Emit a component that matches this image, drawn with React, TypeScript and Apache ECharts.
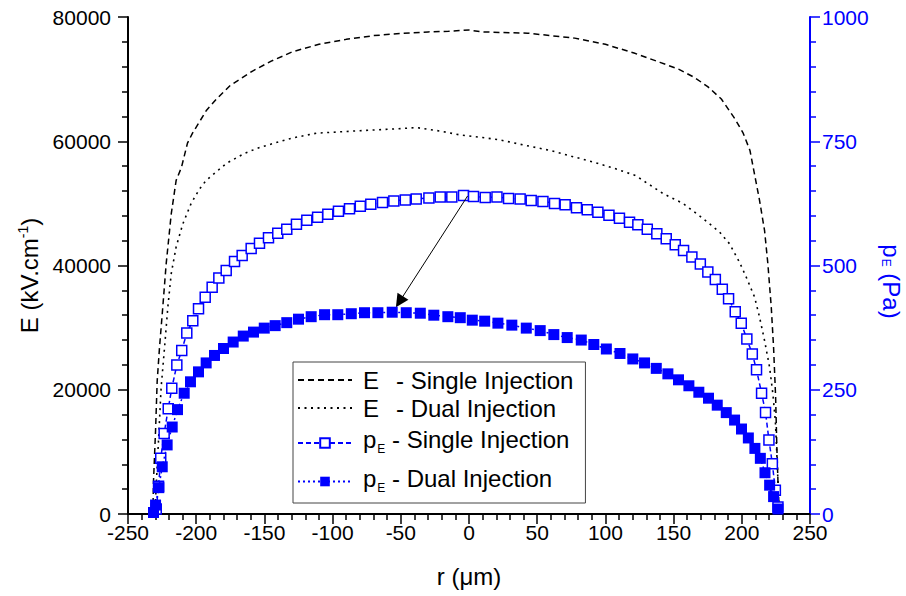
import { useEffect, useRef } from 'react';
import * as echarts from 'echarts';

// ---- data ----
// Electric field E (kV/cm), left axis
const rESingle = [-231.8, -231.3, -229.8, -228.6, -226.9, -224.5, -222, -218.3, -214.7, -210.8, -206.4, -202.7, -192.4, -185.1, -175, -158.7, -145, -129.4, -110, -90, -70, -53, -30, -15, 0, 10, 25, 43, 60, 77.5, 100, 121, 140, 153.6, 165, 175, 185, 195, 201, 206, 209.5, 213, 216.7, 219.1, 221.6, 223.3, 224.8, 225.7, 226.5, 227.5];
const eSingle = [0, 5300, 13400, 21400, 26800, 33300, 40300, 48300, 53700, 55800, 59700, 61300, 65000, 66800, 69000, 71300, 72900, 74400, 75600, 76400, 77000, 77300, 77600, 77700, 77900, 77600, 77500, 77400, 77000, 76600, 75600, 74200, 72700, 71600, 70300, 68800, 66800, 63600, 61300, 58500, 54500, 50500, 45600, 40300, 33300, 26800, 18800, 10700, 5300, 0];

const rEDual = [-230.3, -228.9, -227.4, -225.7, -223.2, -220.8, -218.3, -214.7, -209.8, -203.7, -197.6, -192.7, -177.8, -165, -153.6, -130, -111.8, -80, -53, -38.5, -20, -6.2, 10, 23, 40, 59.8, 75, 92, 107, 121.9, 127.5, 142.1, 156.8, 169, 183.7, 191, 198.4, 203.3, 209.4, 213, 216.7, 220.4, 222.8, 224.6, 225.7, 226.5, 227.5];
const eDual = [0, 6400, 12850, 20400, 26800, 33300, 38700, 43000, 46700, 50000, 52300, 53700, 56450, 58000, 59000, 60500, 61300, 61700, 62000, 62200, 61600, 61000, 60600, 60200, 59400, 58500, 57600, 56600, 55600, 54500, 53700, 51600, 50000, 48000, 45400, 43500, 40500, 38100, 34900, 31700, 27900, 23600, 19300, 15000, 9600, 5300, 0];

// Electrostatic pressure p_E (Pa), right axis
const rPSingle = [-229.3, -227.6, -226, -223.5, -220.5, -217.9, -214.2, -210.6, -206.9, -202.5, -198.3, -193.4, -188.3, -183.4, -178, -171.9, -166.3, -159.7, -153.6, -147, -140.2, -133.6, -126.5, -118.9, -111, -103.5, -95.7, -87.6, -79.7, -72, -63.4, -55.1, -46.7, -38.7, -29.4, -21.1, -12.6, -4, 3.3, 11.9, 20.5, 29, 37.5, 45.6, 54.2, 62.7, 70.5, 78.8, 86.7, 94.5, 102.6, 110.3, 117.7, 123.8, 130.7, 137.7, 144.6, 151.2, 157.3, 163.4, 169.6, 175.1, 180.6, 185.7, 190.3, 195.2, 199.6, 203.7, 207.7, 210.8, 214.5, 217.4, 219.9, 222.4, 224.6, 226.5];
const pSingle = [10, 56, 112, 162, 212, 253, 300, 329, 364, 389, 413, 436, 456, 475, 490, 508, 520, 534, 545, 556, 565, 573, 583, 591, 597, 603, 609, 614, 619, 623, 627, 630, 632, 634, 636, 638, 638, 641, 639, 637, 638, 635, 634, 631, 629, 625, 622, 616, 612, 607, 601, 595, 587, 582, 573, 564, 554, 542, 530, 517, 503, 487, 472, 452, 433, 407, 384, 352, 322, 290, 243, 204, 149, 101, 48, 14];

const rPDual = [-231.3, -229.8, -227.4, -224.9, -221.3, -217.6, -213.7, -208.8, -204.2, -198.3, -192.7, -186.6, -180, -172.9, -165.5, -158, -150.1, -142.1, -133.6, -125, -115.7, -105.9, -96.2, -86.3, -76.6, -66.8, -56.3, -46, -35.7, -25.8, -15.5, -6.4, 2.4, 11.5, 21.2, 31.4, 42, 52.2, 62.2, 72, 82.3, 91.5, 100.7, 110.7, 120.1, 128.7, 137.3, 145.8, 153.6, 161.2, 168.5, 175.6, 182, 188.6, 194.7, 199.8, 204.8, 209.6, 213.6, 217, 220.4, 223.3, 226.5];
const pDual = [3, 18, 53, 95, 139, 175, 210, 243, 266, 286, 304, 319, 333, 346, 358, 366, 374, 379, 385, 392, 397, 401, 401, 403, 405, 405, 406, 405, 404, 400, 397, 395, 390, 388, 384, 380, 374, 369, 361, 355, 350, 341, 332, 323, 312, 304, 293, 282, 270, 258, 245, 233, 219, 204, 189, 171, 153, 132, 112, 83, 58, 35, 10];

// arrow from the single-injection peak to the dual-injection curve (right-axis units)
const arrowFrom = [-1, 640];
const arrowTo = [-51, 427];

const seriesNames = ['E - Single Injection', 'E - Dual Injection', 'pE - Single Injection', 'pE - Dual Injection'];
const legendLabels = [
  '{m|E}{n|- Single Injection}',
  '{m|E}{n|- Dual Injection}',
  '{p|p}{sub|E}{q| - Single Injection}',
  '{p|p}{sub|E}{q| - Dual Injection}',
];

const zip = (xs: number[], ys: number[]) => xs.map((x, i) => [x, ys[i]]);

const FONT = '"Liberation Sans", Arial, Helvetica, sans-serif';
const BLUE = '#0000ff';

export default function App() {
  const ref = useRef<HTMLDivElement>(null);

  useEffect(() => {
    if (!ref.current) return;
    const chart = echarts.init(ref.current, undefined, { renderer: 'svg' });

    const labelMap: Record<string, string> = {};
    seriesNames.forEach((n, i) => (labelMap[n] = legendLabels[i]));
    const plain = (v: number) => String(v);

    const option: any = {
      animation: false,
      backgroundColor: '#ffffff',
      textStyle: { fontFamily: FONT },
      grid: { left: 128, right: 96, top: 17, bottom: 82, containLabel: false, outerBoundsMode: 'none' },
      legend: {
        orient: 'vertical',
        left: 293,
        top: 362,
        padding: [6, 12, 6, 4],
        itemGap: 4,
        itemWidth: 54,
        itemHeight: 12,
        borderColor: '#444',
        borderWidth: 1,
        borderRadius: 0,
        backgroundColor: '#fff',
        data: seriesNames.map((name, i) => (i < 2 ? { name, itemStyle: { opacity: 0 } } : { name })),
        formatter: (name: string) => labelMap[name],
        textStyle: {
          fontFamily: FONT,
          fontSize: 24,
          color: '#000',
          rich: {
            m: { fontSize: 24, lineHeight: 24, width: 33, padding: [0, 0, 0, 6], fontFamily: FONT },
            n: { fontSize: 24, lineHeight: 24, fontFamily: FONT },
            p: { fontSize: 24, lineHeight: 24, padding: [0, 0, 7, 6], fontFamily: FONT },
            q: { fontSize: 24, lineHeight: 24, padding: [0, 0, 7, 0], fontFamily: FONT },
            sub: { fontSize: 12, lineHeight: 12, fontFamily: FONT, verticalAlign: 'bottom', padding: [19, 0, 0, 1] },
          },
        },
      },
      xAxis: {
        type: 'value',
        min: -250,
        max: 250,
        interval: 50,
        name: 'r (μm)',
        nameLocation: 'middle',
        nameGap: 50,
        nameTextStyle: { fontSize: 24, color: '#000', fontFamily: FONT },
        axisLine: { onZero: false, lineStyle: { color: '#000', width: 2 } },
        axisTick: { show: true, length: 10, lineStyle: { color: '#000', width: 1.5 } },
        minorTick: { show: true, splitNumber: 5, length: 6, lineStyle: { color: '#000', width: 1.5 } },
        axisLabel: { fontSize: 21, color: '#000', margin: 8, fontFamily: FONT, formatter: plain },
        splitLine: { show: false },
      },
      yAxis: [
        {
          type: 'value',
          position: 'left',
          min: 0,
          max: 80000,
          interval: 20000,
          name: '{n|E (kV.cm}{sup|-1}{n|)}',
          nameLocation: 'middle',
          nameGap: 86,
          nameTextStyle: {
            color: '#000',
            fontFamily: FONT,
            padding: [0, 20, 0, 0],
            rich: {
              n: { fontSize: 24, fontFamily: FONT },
              sup: { fontSize: 14, fontFamily: FONT, verticalAlign: 'top', padding: [0, 0, 12, 0] },
            },
          },
          axisLine: { show: true, onZero: false, lineStyle: { color: '#000', width: 2 } },
          axisTick: { show: true, length: 10, lineStyle: { color: '#000', width: 1.5 } },
          minorTick: { show: true, splitNumber: 5, length: 6, lineStyle: { color: '#000', width: 1.5 } },
          axisLabel: { fontSize: 21, color: '#000', margin: 17, fontFamily: FONT, formatter: plain },
          splitLine: { show: false },
        },
        {
          type: 'value',
          position: 'right',
          min: 0,
          max: 1000,
          interval: 250,
          name: '{n|p}{sub|E}{n| (Pa)}',
          nameLocation: 'middle',
          nameRotate: -90,
          nameGap: 66,
          nameTextStyle: {
            color: BLUE,
            fontFamily: FONT,
            padding: [0, 0, 0, 32],
            rich: {
              n: { fontSize: 24, lineHeight: 24, fontFamily: FONT, color: BLUE },
              sub: { fontSize: 12, lineHeight: 12, fontFamily: FONT, color: BLUE, verticalAlign: 'bottom', padding: [14, 0, 0, 1] },
            },
          },
          axisLine: { show: true, onZero: false, lineStyle: { color: BLUE, width: 2 } },
          axisTick: { show: true, length: 10, lineStyle: { color: BLUE, width: 1.5 } },
          minorTick: { show: true, splitNumber: 5, length: 6, lineStyle: { color: BLUE, width: 1.5 } },
          axisLabel: { fontSize: 21, color: BLUE, margin: 12, fontFamily: FONT, formatter: plain },
          splitLine: { show: false },
        },
      ],
      series: [
        {
          name: seriesNames[0],
          type: 'line',
          yAxisIndex: 0,
          data: zip(rESingle, eSingle),
          symbol: 'none',
          color: '#000',
          lineStyle: { color: '#000', width: 1.5, type: [6, 4] },
          z: 3,
        },
        {
          name: seriesNames[1],
          type: 'line',
          yAxisIndex: 0,
          data: zip(rEDual, eDual),
          symbol: 'none',
          color: '#000',
          lineStyle: { color: '#000', width: 1.6, type: [2, 4.5] },
          z: 3,
        },
        {
          name: seriesNames[2],
          type: 'line',
          yAxisIndex: 1,
          data: zip(rPSingle, pSingle),
          symbol: 'rect',
          symbolSize: 10,
          showAllSymbol: true,
          color: BLUE,
          itemStyle: { color: '#ffffff', borderColor: BLUE, borderWidth: 1.5 },
          lineStyle: { color: BLUE, width: 1.5, type: [5, 3] },
          z: 4,
          markLine: {
            silent: true,
            animation: false,
            symbol: ['none', 'triangle'],
            symbolSize: 13,
            label: { show: false },
            lineStyle: { color: '#000', width: 1, type: 'solid' },
            itemStyle: { color: '#000' },
            emphasis: { disabled: true },
            data: [[{ coord: arrowFrom }, { coord: arrowTo }]],
          },
        },
        {
          name: seriesNames[3],
          type: 'line',
          yAxisIndex: 1,
          data: zip(rPDual, pDual),
          symbol: 'rect',
          symbolSize: 11,
          showAllSymbol: true,
          color: BLUE,
          itemStyle: { color: BLUE, borderColor: BLUE, borderWidth: 0 },
          lineStyle: { color: BLUE, width: 1.5, type: [2, 3] },
          z: 5,
        },
      ],
    };

    chart.setOption(option);
    return () => chart.dispose();
  }, []);

  return (
    <div
      ref={ref}
      style={{ position: 'fixed', left: 0, top: 0, width: 906, height: 596, background: '#fff' }}
    />
  );
}
